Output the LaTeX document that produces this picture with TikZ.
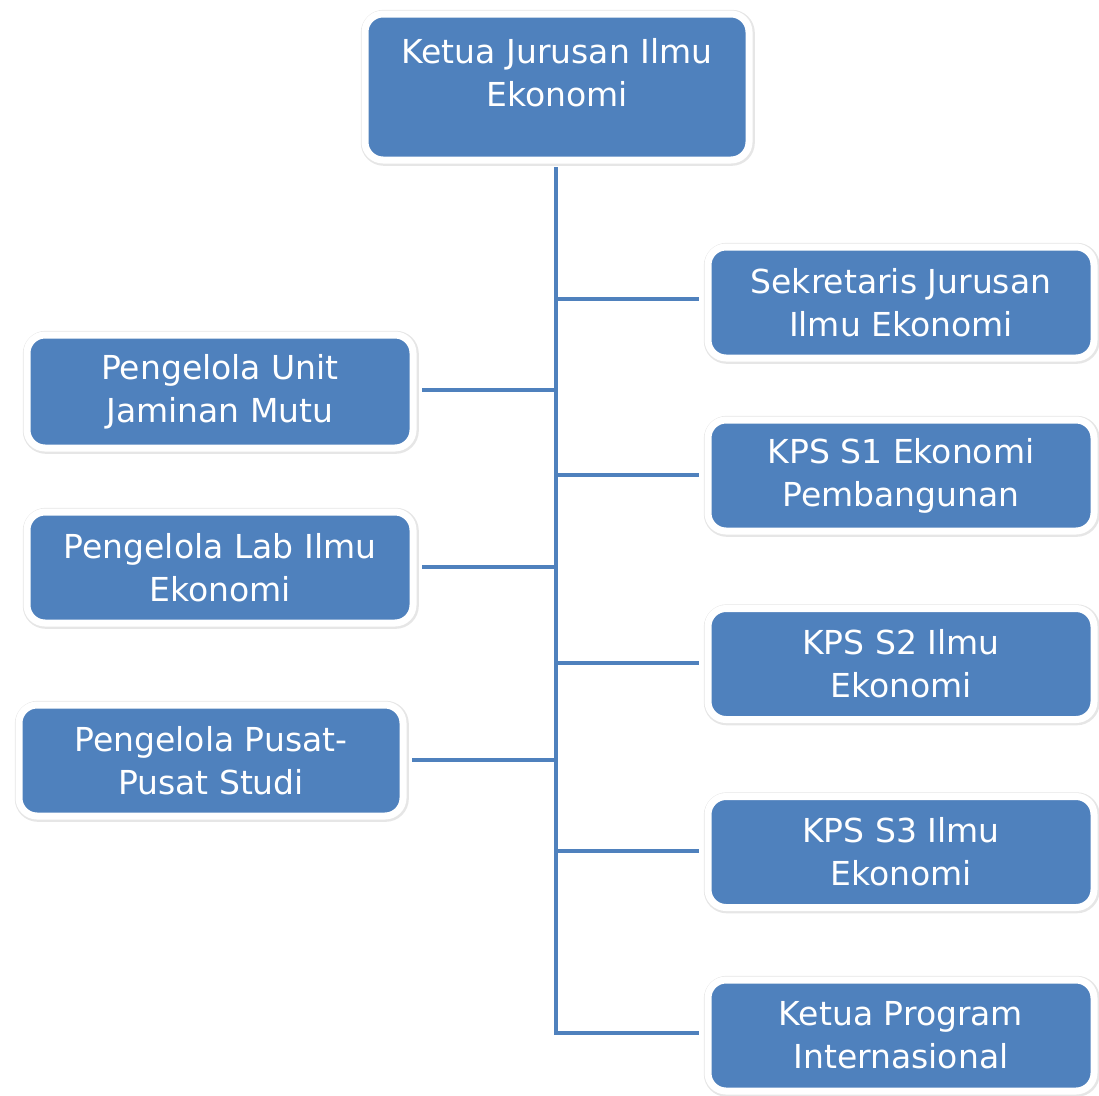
\documentclass[tikz,border=0pt]{standalone}
\usepackage{fontspec}
\setmainfont{DejaVu Sans}
\definecolor{boxblue}{HTML}{4F81BD}
\definecolor{halo}{HTML}{E6E6E6}
\begin{document}
\begin{tikzpicture}[x=1pt,y=-1pt,
  orgbox/.style={rectangle, rounded corners=18pt, fill=boxblue, draw=white, line width=7pt,
    preaction={draw=halo, line width=10pt, transform canvas={xshift=0.8pt,yshift=-0.8pt}},
    minimum width=386pt, minimum height=111pt, inner sep=0pt,
    text=white, align=center, font=\fontsize{33}{43}\selectfont},
  orgtext/.style={text=white, align=center, font=\fontsize{33}{43}\selectfont, inner sep=0pt},
  link/.style={draw=boxblue, line width=4pt}
]
\useasboundingbox (0,0) rectangle (1099,1095);
% top box
\node[orgbox, minimum width=384pt, minimum height=146pt] (top) at (557,87) {};
\node[orgtext] (toptext) at (557,73) {Ketua Jurusan Ilmu\\Ekonomi};
% right boxes
\node[orgbox] (sek) at (901,302.5) {Sekretaris Jurusan\\Ilmu Ekonomi};
\node[orgbox] (s1) at (901,475.5) {KPS S1 Ekonomi\\Pembangunan};
\node[orgbox] (s2) at (901,664) {KPS S2 Ilmu\\Ekonomi};
\node[orgbox] (s3) at (901,852) {KPS S3 Ilmu\\Ekonomi};
\node[orgbox] (intl) at (901,1035.5) {Ketua Program\\Internasional};
% left boxes
\node[orgbox, minimum height=113pt] (unit) at (220,391.5) {Pengelola Unit\\Jaminan Mutu};
\node[orgbox] (lab) at (220,567.5) {Pengelola Lab Ilmu\\Ekonomi};
\node[orgbox, minimum width=384pt] (pusat) at (211,760.5) {Pengelola Pusat-\\Pusat Studi};
% trunk
\coordinate (trunkend) at (556,1033);
\coordinate (j1) at (556,299);
\coordinate (j2) at (556,390);
\coordinate (j3) at (556,475);
\coordinate (j4) at (556,567);
\coordinate (j5) at (556,663);
\coordinate (j6) at (556,760);
\coordinate (j7) at (556,851);
\draw[link] (top.south -| trunkend) ++(0,3.5) -- (trunkend) -- ([xshift=-6pt]intl.west |- trunkend);
\draw[link] (j1) -- ([xshift=-6pt]sek.west |- j1);
\draw[link] (j3) -- ([xshift=-6pt]s1.west |- j3);
\draw[link] (j5) -- ([xshift=-6pt]s2.west |- j5);
\draw[link] (j7) -- ([xshift=-6pt]s3.west |- j7);
\draw[link] (j2) -- ([xshift=5pt]unit.east |- j2);
\draw[link] (j4) -- ([xshift=5pt]lab.east |- j4);
\draw[link] (j6) -- ([xshift=5pt]pusat.east |- j6);
\end{tikzpicture}
\end{document}
